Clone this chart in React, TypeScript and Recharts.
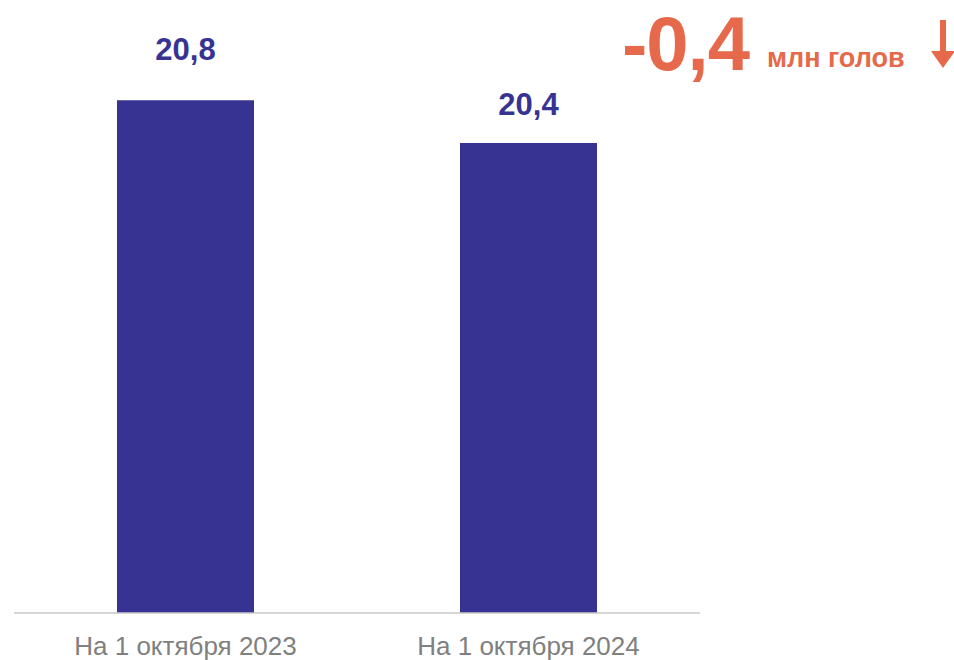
import { BarChart, Bar, XAxis, YAxis, LabelList } from 'recharts'

const categories = ['На 1 октября 2023', 'На 1 октября 2024']
const values = [20.8, 20.4]
const changeValue = '-0,4'
const changeUnit = 'млн голов'

const data = categories.map((name, i) => ({ name, value: values[i] }))

const BAR = '#373393'
const ORANGE = '#E5694A'
const FONT = '"Liberation Sans", Arial, sans-serif'

// labels sit a bit higher above the taller bar in the source
const labelGaps = [40, 28]

function ValueLabel(props: any) {
  const { x, y, width, value, index } = props
  return (
    <text
      x={x + width / 2}
      y={y - labelGaps[index]}
      textAnchor="middle"
      fill={BAR}
      fontSize={31}
      fontWeight="bold"
      fontFamily={FONT}
    >
      {String(value).replace('.', ',')}
    </text>
  )
}

function CategoryTick(props: any) {
  const { x, y, payload } = props
  return (
    <text x={x} y={y + 34} textAnchor="middle" fill="#808080" fontSize={26} fontFamily={FONT}>
      {payload.value}
    </text>
  )
}

export default function App() {
  return (
    <div style={{ position: 'absolute', left: 0, top: 0, width: 954, height: 660, background: '#fff' }}>
      <BarChart width={954} height={660} data={data} margin={{ top: 79, right: 254, left: 14, bottom: 0 }}>
        <YAxis hide domain={[16, 21]} allowDataOverflow />
        <XAxis
          dataKey="name"
          height={47}
          tick={<CategoryTick />}
          tickLine={false}
          axisLine={{ stroke: '#C8C8C8', strokeWidth: 1.5 }}
        />
        <Bar dataKey="value" fill={BAR} barSize={137} isAnimationActive={false}>
          <LabelList dataKey="value" content={<ValueLabel />} />
        </Bar>
      </BarChart>
      <svg width={954} height={110} style={{ position: 'absolute', left: 0, top: 0 }}>
        <text x={622} y={70} fill={ORANGE} fontSize={76} fontWeight="bold" fontFamily={FONT} letterSpacing={-1}>
          {changeValue}
        </text>
        <text x={767} y={67} fill={ORANGE} fontSize={27} fontWeight="bold" fontFamily={FONT}>
          {changeUnit}
        </text>
        <rect x={940} y={20} width={6} height={34} fill={ORANGE} />
        <polygon points="931,51 955,51 943,68" fill={ORANGE} />
      </svg>
    </div>
  )
}
